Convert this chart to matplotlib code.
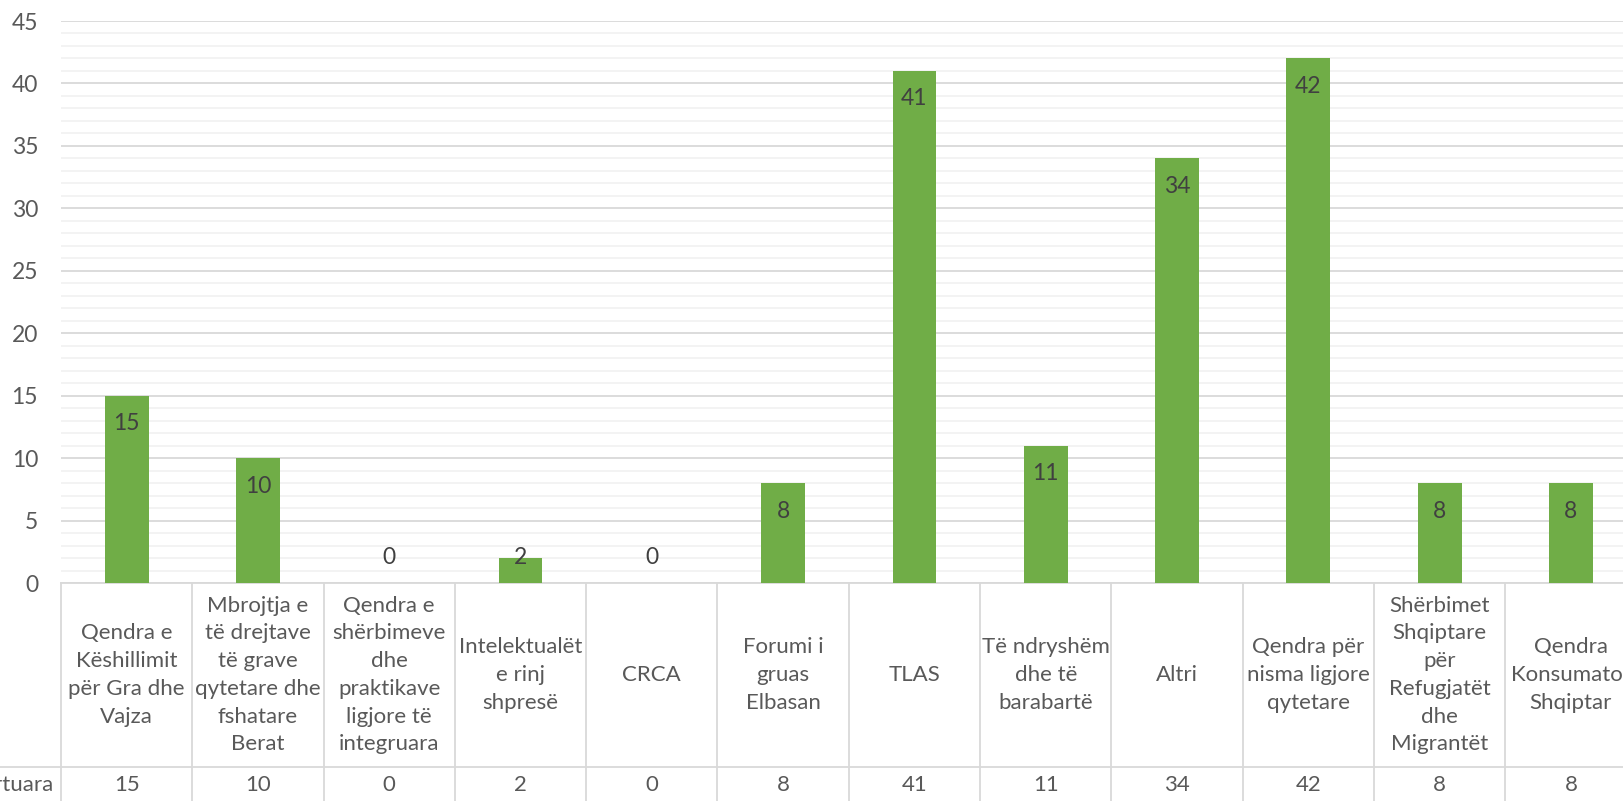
import numpy as np
import matplotlib.pyplot as plt
from matplotlib.lines import Line2D

plt.rcParams['font.family'] = ['Lato', 'DejaVu Sans']

categories = [
    "Qendra e\nKëshillimit\npër Gra dhe\nVajza",
    "Mbrojtja e\ntë drejtave\ntë grave\nqytetare dhe\nfshatare\nBerat",
    "Qendra e\nshërbimeve\ndhe\npraktikave\nligjore të\nintegruara",
    "Intelektualët\ne rinj\nshpresë",
    "CRCA",
    "Forumi i\ngruas\nElbasan",
    "TLAS",
    "Të ndryshëm\ndhe të\nbarabartë",
    "Altri",
    "Qendra për\nnisma ligjore\nqytetare",
    "Shërbimet\nShqiptare\npër\nRefugjatët\ndhe\nMigrantët",
    "Qendra\nKonsumator\nShqiptar",
]
values = [15, 10, 0, 2, 0, 8, 41, 11, 34, 42, 8, 8]
row_label = "Raste të raportuara"

W, H = 1624, 801
fig = plt.figure(figsize=(W / 100, H / 100), dpi=100)
ax = fig.add_axes([61 / W, 1 - 583 / H, 1575.6 / W, 562 / H])

x = np.arange(len(values))
ax.bar(x, values, width=0.333, color='#70ad47', zorder=3)
ax.set_xlim(-0.5, len(values) - 0.5)
ax.set_ylim(0, 45)
ax.set_yticks(range(0, 46, 5))
ax.set_yticks(range(0, 46, 1), minor=True)
ax.set_xticks([])
ax.grid(which='major', axis='y', color='#d9d9d9', lw=1.3, zorder=0)
ax.grid(which='minor', axis='y', color='#f2f2f2', lw=1.3, zorder=0)
ax.tick_params(axis='y', which='both', length=0, pad=16.5, labelsize=16.5, labelcolor='#595959')
for s in ax.spines.values():
    s.set_visible(False)

# data labels (inside end)
upx = 562 / 45
for i, v in enumerate(values):
    ly = max(v - 28 / upx, 25 / upx)
    ax.text(i, ly, str(v), ha='center', va='center', fontsize=16.5, color='#404040', zorder=4)

# data table
tr = ax.get_xaxis_transform()
row_y = -184 / 562
bottom_y = -220 / 562
line_kw = dict(color='#d9d9d9', lw=1.3, clip_on=False, transform=tr)
ax.add_line(Line2D([-0.5, len(values) - 0.5], [0, 0], **line_kw))
for k in range(len(values) + 1):
    ax.add_line(Line2D([k - 0.5, k - 0.5], [0, bottom_y], **line_kw))
fig.add_artist(Line2D([0, 1], [1 - 767 / H, 1 - 767 / H], color='#d9d9d9', lw=1.3))

for i, (c, v) in enumerate(zip(categories, values)):
    ax.text(i, row_y / 2, c, transform=tr, ha='center', va='center', fontsize=16,
            color='#595959', linespacing=1.48, clip_on=False)
    ax.text(i, -202 / 562, str(v), transform=tr, ha='center', va='center', fontsize=16,
            color='#595959', clip_on=False)
fig.text(53 / W, 1 - 785 / H, row_label, ha='right', va='center', fontsize=16, color='#595959')

fig.savefig('out.png', dpi=100)
